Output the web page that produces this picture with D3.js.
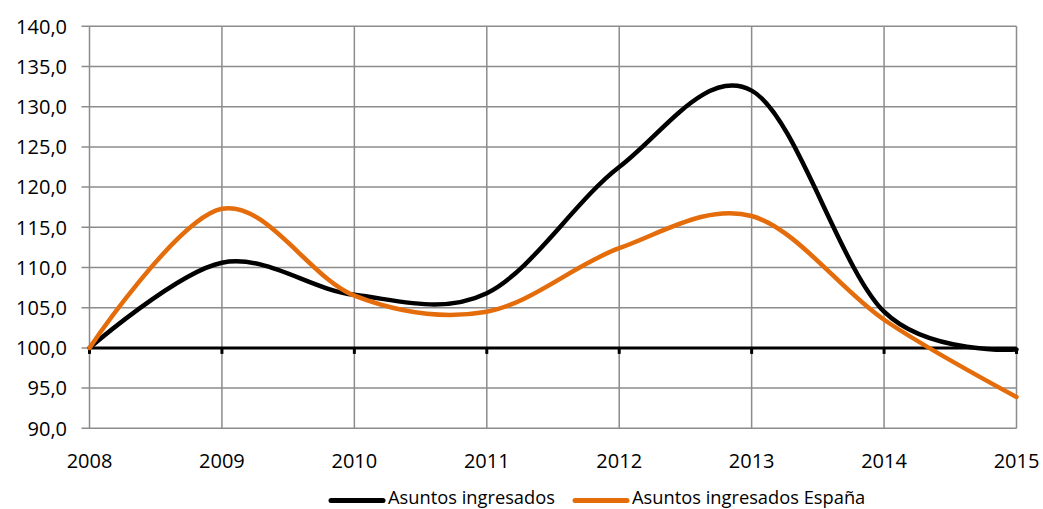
<!DOCTYPE html>
<html>
<head>
<meta charset="utf-8">
<script src="https://cdn.jsdelivr.net/npm/d3@7"></script>
<style>
  html, body { margin: 0; padding: 0; background: #fff; }
  svg { display: block; }
  text { font-family: "Open Sans", sans-serif; fill: #000; }
</style>
</head>
<body>
<svg id="chart" width="1043" height="509"></svg>
<script>
const years = [2008, 2009, 2010, 2011, 2012, 2013, 2014, 2015];
const asuntosIngresados = [100.0, 110.6, 106.6, 106.8, 122.5, 132.0, 104.5, 99.8];
const asuntosEspana = [100.0, 117.3, 106.5, 104.5, 112.4, 116.4, 103.5, 93.9];
const yTicks = [90, 95, 100, 105, 110, 115, 120, 125, 130, 135, 140];
const seriesNames = ["Asuntos ingresados", "Asuntos ingresados España"];
const seriesColors = ["#000000", "#E46C0A"];

const svg = d3.select("#chart");
const x = d3.scaleLinear().domain([2008, 2015]).range([89.5, 1016.5]);
const y = d3.scaleLinear().domain([90, 140]).range([428.3, 26.3]);
const fmt = v => d3.format(".1f")(v).replace(".", ",");

const grid = svg.append("g");
grid.selectAll("line.h").data(yTicks).enter().append("line")
  .attr("x1", 81.5).attr("x2", x(2015))
  .attr("y1", d => y(d)).attr("y2", d => y(d))
  .attr("stroke", "#8c8c8c").attr("stroke-width", 1.5);
grid.selectAll("line.v").data(years).enter().append("line")
  .attr("x1", d => x(d)).attr("x2", d => x(d))
  .attr("y1", y(140)).attr("y2", y(90))
  .attr("stroke", "#8c8c8c").attr("stroke-width", 1.5);

svg.append("g").selectAll("text").data(yTicks).enter().append("text")
  .attr("x", 67).attr("y", d => y(d)).attr("dy", "0.36em")
  .attr("text-anchor", "end").style("font-size", "20px")
  .text(fmt);

svg.append("g").selectAll("text").data(years).enter().append("text")
  .attr("x", d => x(d)).attr("y", 467.5)
  .attr("text-anchor", "middle").style("font-size", "20px")
  .text(d => d);

svg.append("line")
  .attr("x1", x(2008)).attr("x2", x(2015))
  .attr("y1", y(100)).attr("y2", y(100))
  .attr("stroke", "#000").attr("stroke-width", 3);
svg.append("g").selectAll("line").data(years).enter().append("line")
  .attr("x1", d => x(d)).attr("x2", d => x(d))
  .attr("y1", y(100)).attr("y2", y(100) + 6)
  .attr("stroke", "#000").attr("stroke-width", 3);

const line = d3.line()
  .x((d, i) => x(years[i]))
  .y(d => y(d))
  .curve(d3.curveCardinal.tension(0));

[asuntosIngresados, asuntosEspana].forEach((s, k) => {
  svg.append("path").datum(s)
    .attr("d", line)
    .attr("fill", "none")
    .attr("stroke", seriesColors[k])
    .attr("stroke-width", 4.5)
    .attr("stroke-linejoin", "round")
    .attr("stroke-linecap", "round");
});

const legendItems = [
  { x1: 331, x2: 383, tx: 388 },
  { x1: 575, x2: 627, tx: 632 }
];
const lg = svg.append("g");
legendItems.forEach((it, k) => {
  lg.append("line")
    .attr("x1", it.x1).attr("x2", it.x2)
    .attr("y1", 500.5).attr("y2", 500.5)
    .attr("stroke", seriesColors[k]).attr("stroke-width", 5)
    .attr("stroke-linecap", "round");
  lg.append("text")
    .attr("x", it.tx).attr("y", 504)
    .style("font-size", "18.3px")
    .text(seriesNames[k]);
});
</script>
</body>
</html>
